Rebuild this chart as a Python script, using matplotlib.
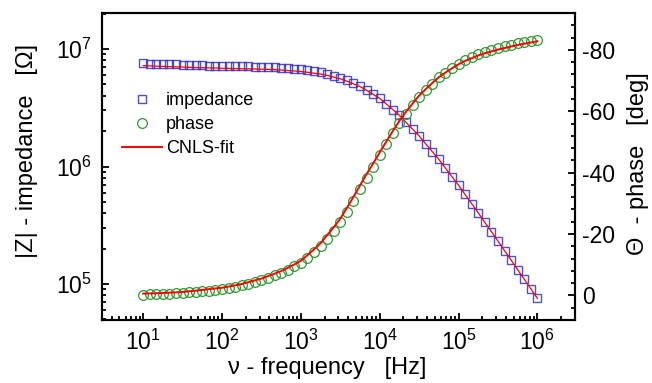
import matplotlib
matplotlib.use('Agg')
import matplotlib.pyplot as plt
from matplotlib.ticker import MultipleLocator, LogLocator, NullFormatter, FixedLocator

plt.rcParams['font.family'] = ['Liberation Sans', 'DejaVu Sans']
plt.rcParams['mathtext.fontset'] = 'custom'
plt.rcParams['mathtext.rm'] = 'Liberation Sans'
plt.rcParams['mathtext.it'] = 'Liberation Sans:italic'
plt.rcParams['mathtext.bf'] = 'Liberation Sans:bold'
plt.rcParams['axes.unicode_minus'] = False

# frequency points [Hz]
freq = [10, 12.1, 14.7, 17.8, 21.5, 26.1, 31.6, 38.3, 46.4, 56.2, 68.1, 82.5,
        100, 121, 147, 178, 215, 261, 316, 383, 464, 562, 681, 825,
        1000, 1210, 1470, 1780, 2150, 2610, 3160, 3830, 4640, 5620, 6810, 8250,
        1.00e4, 1.21e4, 1.47e4, 1.78e4, 2.15e4, 2.61e4, 3.16e4, 3.83e4, 4.64e4, 5.62e4, 6.81e4, 8.25e4,
        1.00e5, 1.21e5, 1.47e5, 1.78e5, 2.15e5, 2.61e5, 3.16e5, 3.83e5, 4.64e5, 5.62e5, 6.81e5, 8.25e5,
        1.00e6]

# measured |Z| [Ohm]
impedance = [7.55e6, 7.52e6, 7.48e6, 7.45e6, 7.41e6, 7.38e6, 7.35e6, 7.31e6, 7.28e6, 7.26e6, 7.23e6, 7.21e6,
             7.18e6, 7.16e6, 7.13e6, 7.11e6, 7.10e6, 7.08e6, 7.05e6, 7.02e6, 6.98e6, 6.93e6, 6.87e6, 6.81e6,
             6.73e6, 6.61e6, 6.47e6, 6.34e6, 6.14e6, 5.93e6, 5.71e6, 5.42e6, 5.13e6, 4.84e6, 4.48e6, 4.13e6,
             3.80e6, 3.41e6, 3.05e6, 2.72e6, 2.38e6, 2.08e6, 1.82e6, 1.56e6, 1.34e6, 1.15e6, 9.71e5, 8.18e5,
             6.92e5, 5.78e5, 4.82e5, 4.03e5, 3.35e5, 2.79e5, 2.32e5, 1.92e5, 1.60e5, 1.32e5, 1.10e5, 9.10e4,
             7.55e4]

# measured phase [deg]
phase = [-0.3, -0.37, -0.43, -0.5, -0.6, -0.7, -0.8, -1.0, -1.2, -1.4, -1.6, -1.85,
         -2.1, -2.5, -2.9, -3.3, -3.85, -4.4, -5.0, -5.75, -6.5, -7.3, -8.35, -9.45,
         -10.6, -12.3, -14.1, -16.0, -18.5, -21.1, -23.8, -27.3, -30.9, -34.6, -38.3, -41.9,
         -45.6, -49.2, -52.8, -56.2, -59.2, -62.0, -64.7, -66.9, -69.0, -71.0, -72.6, -74.1,
         -75.5, -76.6, -77.6, -78.5, -79.2, -79.9, -80.6, -81.1, -81.6, -82.1, -82.5, -82.9,
         -83.3]

# CNLS fit
fit_impedance = [7.21e6, 7.18e6, 7.14e6, 7.11e6, 7.08e6, 7.05e6, 7.02e6, 6.98e6, 6.95e6, 6.93e6, 6.90e6, 6.89e6,
                 6.85e6, 6.84e6, 6.81e6, 6.79e6, 6.78e6, 6.76e6, 6.73e6, 6.70e6, 6.67e6, 6.62e6, 6.56e6, 6.50e6,
                 6.43e6, 6.34e6, 6.22e6, 6.12e6, 5.96e6, 5.77e6, 5.58e6, 5.32e6, 5.05e6, 4.79e6, 4.45e6, 4.11e6,
                 3.80e6, 3.41e6, 3.05e6, 2.72e6, 2.38e6, 2.08e6, 1.82e6, 1.56e6, 1.34e6, 1.15e6, 9.71e5, 8.18e5,
                 6.92e5, 5.78e5, 4.82e5, 4.03e5, 3.35e5, 2.79e5, 2.32e5, 1.92e5, 1.60e5, 1.32e5, 1.10e5, 9.10e4,
                 7.55e4]

fit_phase = [-0.6, -0.65, -0.7, -0.8, -0.9, -1.0, -1.15, -1.35, -1.55, -1.8, -2.05, -2.3,
             -2.5, -2.9, -3.3, -3.75, -4.3, -4.9, -5.5, -6.3, -7.1, -7.95, -9.0, -10.1,
             -11.3, -13.1, -15.0, -17.0, -19.6, -22.2, -25.0, -28.5, -32.1, -35.8, -39.5, -43.0,
             -46.6, -50.1, -53.6, -56.9, -59.8, -62.5, -65.1, -67.2, -69.2, -71.1, -72.6, -74.0,
             -75.3, -76.4, -77.3, -78.2, -78.9, -79.5, -80.1, -80.6, -81.1, -81.6, -82.0, -82.4,
             -82.8]

x_ticks = [1e1, 1e2, 1e3, 1e4, 1e5, 1e6]
z_ticks = [1e5, 1e6, 1e7]
phase_ticks = [0, -20, -40, -60, -80]

fig = plt.figure(figsize=(6.52, 3.83), dpi=100)
ax1 = fig.add_axes([0.1564, 0.1645, 0.7255, 0.8015])
ax2 = ax1.twinx()

sq, = ax1.plot(freq, impedance, 's', ms=6.3, mfc='none', mec='#3030d0', mew=1.0, alpha=0.85,
               label='impedance')
ln1, = ax1.plot(freq, fit_impedance, '-', color='#ff0000', lw=0.9)

ci, = ax2.plot(freq, phase, 'o', ms=7.0, mfc='none', mec='#2f9a2f', mew=0.9, label='phase')
ln2, = ax2.plot(freq, fit_phase, '-', color='#ff0000', lw=1.4, label='CNLS-fit')

ax1.set_xscale('log')
ax1.set_yscale('log')
ax1.set_xlim(3.0, 3.0e6)
ax1.set_ylim(10 ** 4.694, 10 ** 7.306)
ax2.set_ylim(8, -92)

ax1.xaxis.set_major_locator(FixedLocator(x_ticks))
ax1.yaxis.set_major_locator(FixedLocator(z_ticks))
ax1.xaxis.set_minor_locator(LogLocator(base=10, subs=range(2, 10)))
ax1.xaxis.set_minor_formatter(NullFormatter())
ax1.yaxis.set_minor_locator(LogLocator(base=10, subs=range(2, 10)))
ax1.yaxis.set_minor_formatter(NullFormatter())
ax2.yaxis.set_major_locator(FixedLocator(phase_ticks))
ax2.yaxis.set_minor_locator(MultipleLocator(4))

for ax in (ax1, ax2):
    for s in ax.spines.values():
        s.set_linewidth(1.5)

ax1.tick_params(which='both', direction='in', top=False, right=False, width=1.3, labelsize=16.5)
ax1.tick_params(which='major', length=5)
ax1.tick_params(which='minor', length=3)
ax1.tick_params(axis='y', pad=7)
ax1.tick_params(axis='x', pad=7)
ax2.tick_params(which='both', direction='in', width=1.3, labelsize=16.5, pad=5)
ax2.tick_params(which='major', length=5)
ax2.tick_params(which='minor', length=3)

fig.text(0.5023, 0.040, 'ν - frequency   [Hz]', fontsize=17, ha='center', va='center')
fig.text(0.041, 0.606, '|Z| - impedance   [Ω]', fontsize=17, ha='center', va='center', rotation=90)
fig.text(0.978, 0.574, 'Θ  - phase   [deg]', fontsize=17, ha='center', va='center', rotation=90)

ax2.legend(handles=[sq, ci, ln2], loc='upper left', bbox_to_anchor=(0.187, 0.76),
           bbox_transform=fig.transFigure, frameon=False, fontsize=13, numpoints=1,
           handlelength=2.2, handletextpad=0.25, labelspacing=0.4, borderpad=0, borderaxespad=0)

fig.savefig('out.png', dpi=100)
